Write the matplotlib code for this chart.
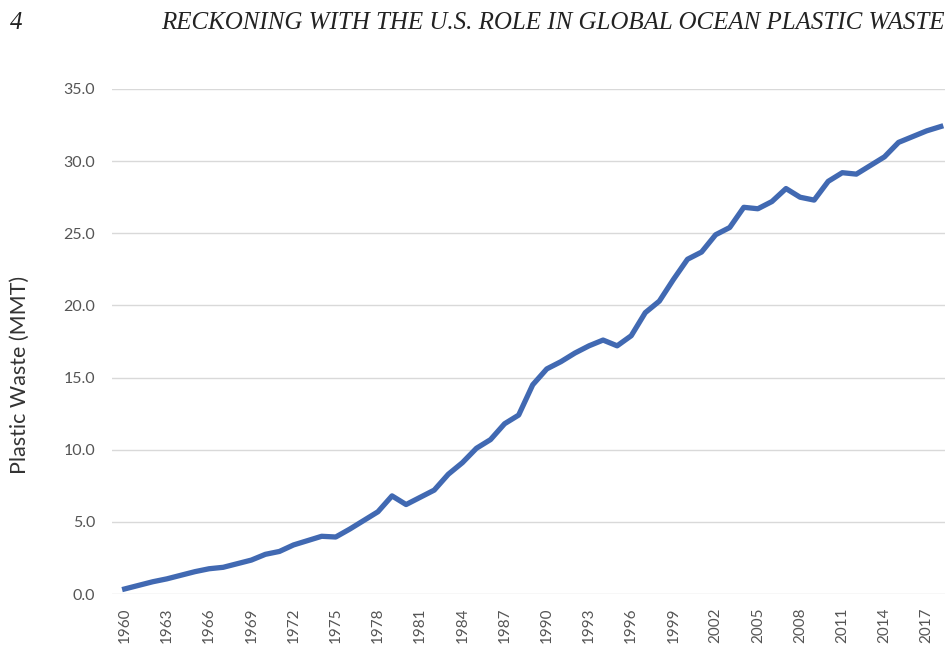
import matplotlib.pyplot as plt
import numpy as np

# plastic waste (MMT) per year
years = list(range(1960, 2019))
waste = [0.35, 0.6, 0.85, 1.05, 1.3, 1.55, 1.75, 1.85, 2.1, 2.35,
         2.75, 2.95, 3.4, 3.7, 4.0, 3.95, 4.5, 5.1, 5.7, 6.8,
         6.2, 6.7, 7.2, 8.3, 9.1, 10.1, 10.7, 11.8, 12.4, 14.5,
         15.6, 16.1, 16.7, 17.2, 17.6, 17.2, 17.9, 19.5, 20.3, 21.8,
         23.2, 23.7, 24.9, 25.4, 26.8, 26.7, 27.2, 28.1, 27.5, 27.3,
         28.6, 29.2, 29.1, 29.7, 30.3, 31.3, 31.7, 32.1, 32.4]
xticks = list(range(1960, 2018, 3))
yticks = [0, 5, 10, 15, 20, 25, 30, 35]

fig = plt.figure(figsize=(9.49, 6.6), dpi=100)
ax = fig.add_axes([112 / 949, 66 / 660, 833 / 949, 505 / 660])

ax.plot(years, waste, color='#4169B2', lw=3.8, solid_joinstyle='round', zorder=3)

ax.set_xlim(1959.1, 2018.3)
ax.set_ylim(0, 35)
ax.set_yticks(yticks)
ax.set_yticklabels(['%.1f' % v for v in yticks], fontsize=11.5, color='#555555', family='Lato')
ax.set_xticks(xticks)
ax.set_xticklabels([str(y) for y in xticks], rotation=90, fontsize=11, color='#555555', family='Lato')
ax.tick_params(length=0, pad=12)
ax.tick_params(axis='x', pad=10)
ax.grid(axis='y', color='#D9D9D9', lw=1)
ax.set_axisbelow(True)
for s in ax.spines.values():
    s.set_visible(False)

ax.set_ylabel('Plastic Waste (MMT)', fontsize=15.5, color='#333333', family='Lato')
ax.yaxis.set_label_coords(-82 / 833, 0.434)

# page header
fig.text(10 / 949, 1 - 23 / 660, '4', fontsize=18, family='Liberation Serif', style='italic', va='center', color='#222222')
fig.text(945 / 949, 1 - 23 / 660, 'RECKONING WITH THE U.S. ROLE IN GLOBAL OCEAN PLASTIC WASTE',
         fontsize=18, family='Liberation Serif', style='italic', ha='right', va='center', color='#222222')

fig.savefig('out.png', dpi=100)
